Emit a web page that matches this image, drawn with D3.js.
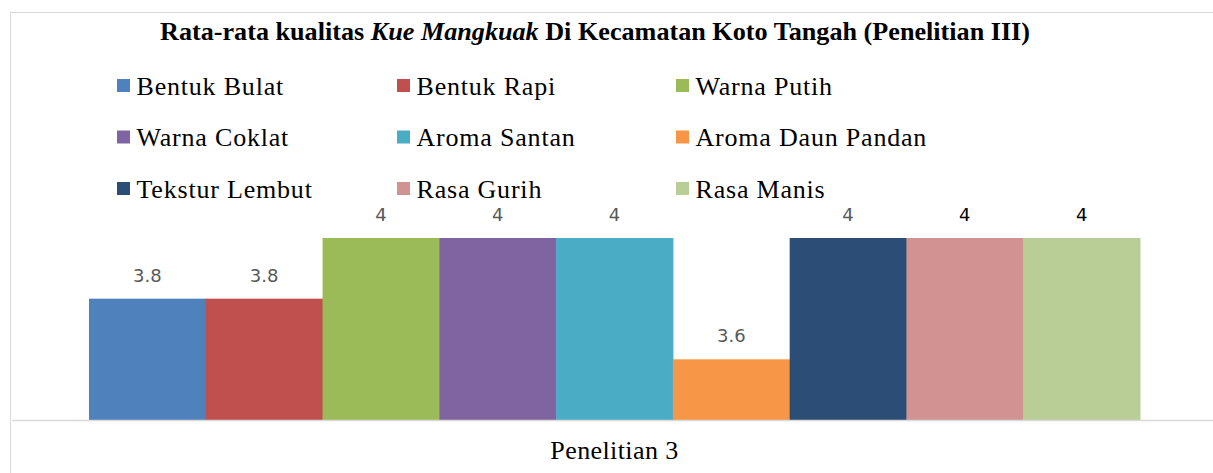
<!DOCTYPE html>
<html><head><meta charset="utf-8">
<script src="https://cdn.jsdelivr.net/npm/d3@7"></script>
<style>body{margin:0;background:#fff}svg{display:block}</style>
</head><body>
<svg id="c" width="1213" height="473"></svg>
<script>
const categories = ["Bentuk Bulat","Bentuk Rapi","Warna Putih","Warna Coklat","Aroma Santan","Aroma Daun Pandan","Tekstur Lembut","Rasa Gurih","Rasa Manis"];
const values = [3.8,3.8,4,4,4,3.6,4,4,4];
const colors = ["#4F81BD","#C0504D","#9BBB59","#8064A2","#4BACC6","#F79646","#2C4D75","#D19392","#B9CD96"];
const labelDark = [false,false,false,false,false,false,false,true,true];
const groupLabel = "Penelitian 3";

const svg = d3.select("#c");
svg.append("rect").attr("x",10.5).attr("y",12.5).attr("width",1220).attr("height",480)
  .attr("fill","#fff").attr("stroke","#d9d9d9").attr("stroke-width",1);

const t = svg.append("text").attr("x",595).attr("y",40).attr("text-anchor","middle")
  .attr("font-family","Liberation Serif").attr("font-weight","bold").attr("font-size",26).attr("fill","#000")
  .attr("textLength",870).attr("lengthAdjust","spacingAndGlyphs");
t.append("tspan").text("Rata-rata kualitas ");
t.append("tspan").attr("font-style","italic").text("Kue Mangkuak");
t.append("tspan").text(" Di Kecamatan Koto Tangah (Penelitian III)");

const lg = svg.append("g");
categories.forEach((c,i)=>{
  const col=i%3,row=Math.floor(i/3);
  const lx=[117,397,676][col], ly=86+row*51.5;
  lg.append("rect").attr("x",lx).attr("y",ly-7).attr("width",13).attr("height",13).attr("fill",colors[i]);
  lg.append("text").attr("x",lx+19.5).attr("y",ly+8.5).attr("font-family","Liberation Serif").attr("font-size",26)
    .attr("letter-spacing",0.8).attr("fill","#000").text(c);
});

const x = d3.scaleBand().domain(categories).range([89,1140]).padding(0);
const y = d3.scaleLinear().domain([3.4,4]).range([420,238]);

svg.append("g").selectAll("rect").data(categories).join("rect")
  .attr("x",d=>x(d)).attr("width",x.bandwidth()+0.5)
  .attr("y",(d,i)=>y(values[i])).attr("height",(d,i)=>y(3.4)-y(values[i]))
  .attr("fill",(d,i)=>colors[i]);

svg.append("g").selectAll("text").data(categories).join("text")
  .attr("x",d=>x(d)+x.bandwidth()/2).attr("y",(d,i)=>y(values[i])-17)
  .attr("text-anchor","middle").attr("font-family","DejaVu Sans").attr("font-size",18)
  .attr("fill",(d,i)=>labelDark[i]?"#000":"#595959")
  .text((d,i)=>values[i]);

svg.append("line").attr("x1",12).attr("x2",1213).attr("y1",420.5).attr("y2",420.5)
  .attr("stroke","#d9d9d9").attr("stroke-width",1.5);

svg.append("text").attr("x",614.5).attr("y",459).attr("text-anchor","middle")
  .attr("font-family","Liberation Serif").attr("font-size",26).attr("letter-spacing",0.4)
  .attr("fill","#000").text(groupLabel);
</script>
</body></html>
